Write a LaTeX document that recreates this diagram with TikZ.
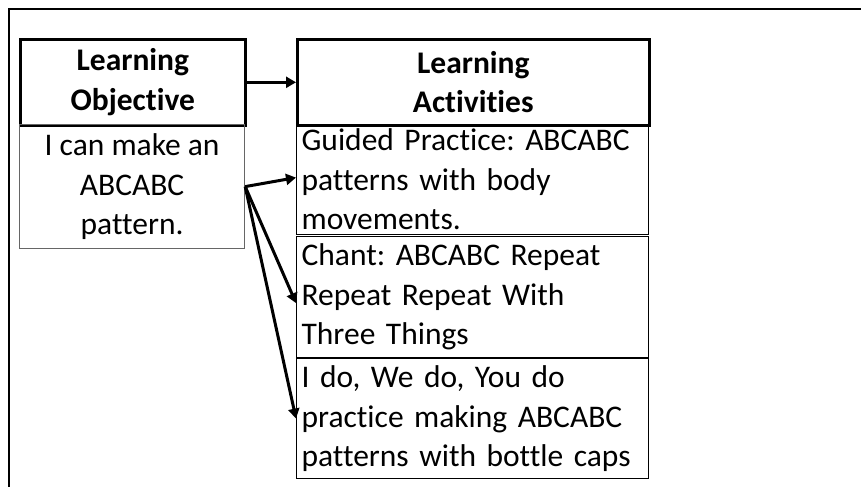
\documentclass[tikz,border=0pt]{standalone}
\usepackage{fontspec}
\setmainfont[Ligatures=NoCommon]{Carlito}
\usetikzlibrary{arrows.meta}
\begin{document}
\frenchspacing
\begin{tikzpicture}[x=1pt,y=-1pt,
  txt/.style={font=\fontsize{31.5}{39.5}\selectfont},
  headbox/.style={draw=black, line width=2.6pt, rectangle, inner sep=0pt,
    anchor=north west, align=center, font=\fontsize{31.5}{39.5}\selectfont\bfseries},
  objbox/.style={txt, draw=black!60, line width=1.2pt, rectangle, inner sep=0pt,
    anchor=north west, align=center},
  actbox/.style={txt, draw=black, line width=1.2pt, rectangle, inner xsep=5pt, inner ysep=0pt,
    anchor=north west, align=left, text width=342pt, minimum width=352pt},
  flow/.style={line width=3pt, -{Triangle[length=10pt,width=11pt]}}]

% canvas and outer frame
\useasboundingbox (0,0) rectangle (861,487);
\fill[white] (0,0) rectangle (861,487);
\draw[line width=2.6pt] (861,9) -- (9,9) -- (9,487);

% objective column
\node[headbox, minimum width=225pt, minimum height=86pt] (lohead) at (19,38) {Learning\\Objective};
\node[objbox, minimum width=225pt, minimum height=124pt] (lobody) at (19,124) {I can make an\\ABCABC\\pattern.};

% activities column
\node[headbox, minimum width=352pt, minimum height=86pt] (lahead) at (296,38) {Learning\\Activities};
\node[actbox, minimum height=110pt] (guided) at (296,124) {Guided Practice: ABCABC\\patterns with body\\movements.};
\node[actbox, minimum height=121pt] (chant) at (296,236) {Chant: ABCABC Repeat\\Repeat Repeat With\\Three Things};
\node[actbox, minimum height=120pt] (ido) at (296,358) {I do, We do, You do\\practice making ABCABC\\patterns with bottle caps};

% connectors
\draw[flow] (lohead.east) -- (lahead.west);
\draw[flow] (lobody.east) -- ([yshift=2pt]guided.west);
\draw[flow] (lobody.east) -- ([yshift=-6pt]chant.west);
\draw[flow] (lobody.east) -- (ido.west);
\end{tikzpicture}
\end{document}
